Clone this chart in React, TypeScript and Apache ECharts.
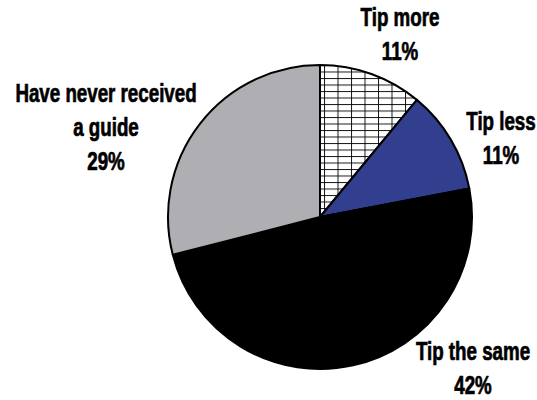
import React, { useEffect, useRef } from "react";
import * as echarts from "echarts";

const categories = ["Tip more", "Tip less", "Tip the same", "Have never received\na guide"];
const values = [11, 11, 49, 29];
const labelPercents = ["11%", "11%", "42%", "29%"];
const sliceColors = ["pattern", "#323F8E", "#000000", "#AFAEB3"];

const FONT = '"Liberation Sans", Arial, sans-serif';

function makeGridPattern() {
  const c = document.createElement("canvas");
  c.width = 27;
  c.height = 13;
  const ctx = c.getContext("2d")!;
  ctx.fillStyle = "#ffffff";
  ctx.fillRect(0, 0, 27, 13);
  ctx.fillStyle = "#000000";
  ctx.fillRect(0, 0, 2, 13);
  ctx.fillRect(0, 0, 27, 2);
  return { image: c, repeat: "repeat", imageWidth: 13.5, imageHeight: 6.5 } as any;
}

export default function App() {
  const ref = useRef<HTMLDivElement>(null);
  useEffect(() => {
    document.body.style.margin = "0";
    if (!ref.current) return;
    const chart = echarts.init(ref.current, undefined, { renderer: "svg" });
    const pattern = makeGridPattern();
    const labelPos = [
      [400, 35],
      [501, 139],
      [473, 369],
      [106, 128],
    ];
    chart.setOption({
      animation: false,
      backgroundColor: "#ffffff",
      series: [
        {
          type: "pie",
          center: [320, 217],
          radius: 152,
          startAngle: 90,
          clockwise: true,
          label: { show: false },
          labelLine: { show: false },
          emphasis: { disabled: true },
          itemStyle: { borderColor: "#000000", borderWidth: 2 },
          data: categories.map((name, i) => ({
            name,
            value: values[i],
            itemStyle: { color: sliceColors[i] === "pattern" ? pattern : sliceColors[i] },
          })),
        },
      ],
      graphic: categories.map((name, i) => ({
        type: "text",
        x: labelPos[i][0],
        y: labelPos[i][1],
        scaleX: 0.75,
        style: {
          text: name + "\n" + labelPercents[i],
          align: "center",
          verticalAlign: "middle",
          fontSize: 25,
          fontWeight: "bold",
          fontFamily: FONT,
          lineHeight: 34,
          fill: "#000000",
          stroke: "#000000",
          lineWidth: 0.7,
        },
      })),
    });
    return () => chart.dispose();
  }, []);
  return <div ref={ref} style={{ width: 537, height: 400 }} />;
}
